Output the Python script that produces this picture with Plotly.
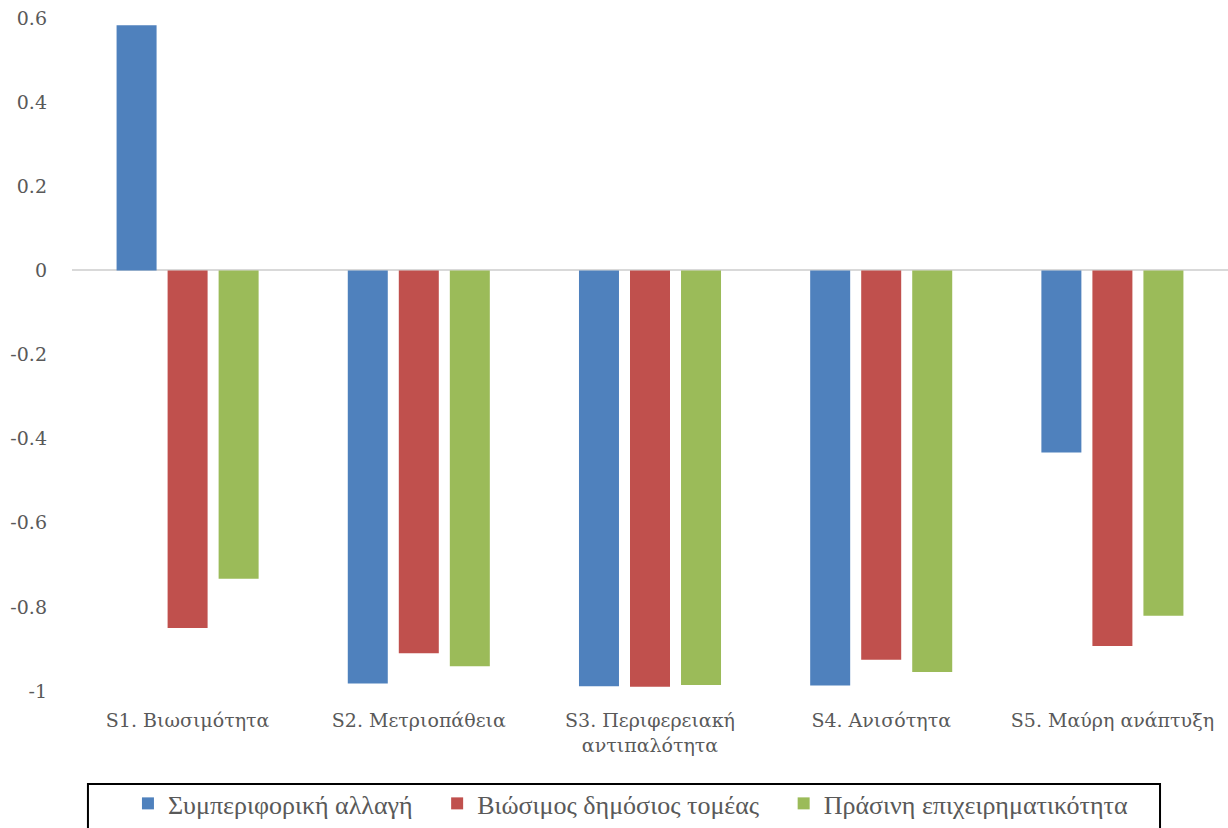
import plotly.graph_objects as go

categories = [
    "S1. Βιωσιμότητα",
    "S2. Μετριοπάθεια",
    "S3. Περιφερειακή<br>αντιπαλότητα",
    "S4. Ανισότητα",
    "S5. Μαύρη ανάπτυξη",
]
series_names = [
    "Συμπεριφορική αλλαγή",
    "Βιώσιμος δημόσιος τομέας",
    "Πράσινη επιχειρηματικότητα",
]
behavioural = [0.583, -0.982, -0.989, -0.987, -0.433]
public_sector = [-0.850, -0.910, -0.990, -0.926, -0.893]
green_business = [-0.733, -0.941, -0.986, -0.955, -0.821]

tick_vals = [0.6, 0.4, 0.2, 0, -0.2, -0.4, -0.6, -0.8, -1]
tick_text = ["0.6", "0.4", "0.2", "0", "-0.2", "-0.4", "-0.6", "-0.8", "-1"]

colors = ["#4F81BD", "#C0504D", "#9BBB59"]
values = [behavioural, public_sector, green_business]

# trailing padding spreads the legend entries apart
legend_pad = ["\u00a0" * 3, "\u00a0" * 3, ""]

fig = go.Figure()
for name, pad, vals, col in zip(series_names, legend_pad, values, colors):
    fig.add_trace(go.Bar(
        x=categories, y=vals, name=name + pad,
        marker=dict(color=col, line=dict(width=0)),
    ))

axis_font = dict(family="DejaVu Serif, serif", size=19, color="#595959")

# frame around the legend, running off the bottom edge of the page
fig.add_shape(
    type="rect", xref="paper", yref="paper",
    x0=0.0138, x1=0.9412, y0=-0.40, y1=-0.1382,
    line=dict(color="black", width=2), fillcolor="rgba(0,0,0,0)",
    layer="above",
)

fig.update_layout(
    width=1228, height=828,
    paper_bgcolor="white", plot_bgcolor="white",
    margin=dict(l=72, r=0, t=18, b=137, autoexpand=False),
    barmode="group", bargap=0.338, bargroupgap=0.216,
    font=axis_font,
    showlegend=True,
    legend=dict(
        orientation="h", x=0.0484, y=-0.1322, xanchor="left", yanchor="top",
        borderwidth=0, bgcolor="rgba(0,0,0,0)",
        font=dict(family="Liberation Serif, serif", size=26, color="#595959"),
        itemwidth=30, traceorder="normal",
    ),
    xaxis=dict(
        showline=False, showgrid=False, zeroline=False,
        tickfont=axis_font, ticks="", automargin=False,
        ticklabelstandoff=16,
    ),
    yaxis=dict(
        range=[-1, 0.6], tickvals=tick_vals, ticktext=tick_text,
        showgrid=False, showline=False, zeroline=True,
        zerolinecolor="#D9D9D9", zerolinewidth=2,
        tickfont=axis_font, ticks="", ticklabelstandoff=24, automargin=False,
    ),
)

fig.write_html("out.html")
